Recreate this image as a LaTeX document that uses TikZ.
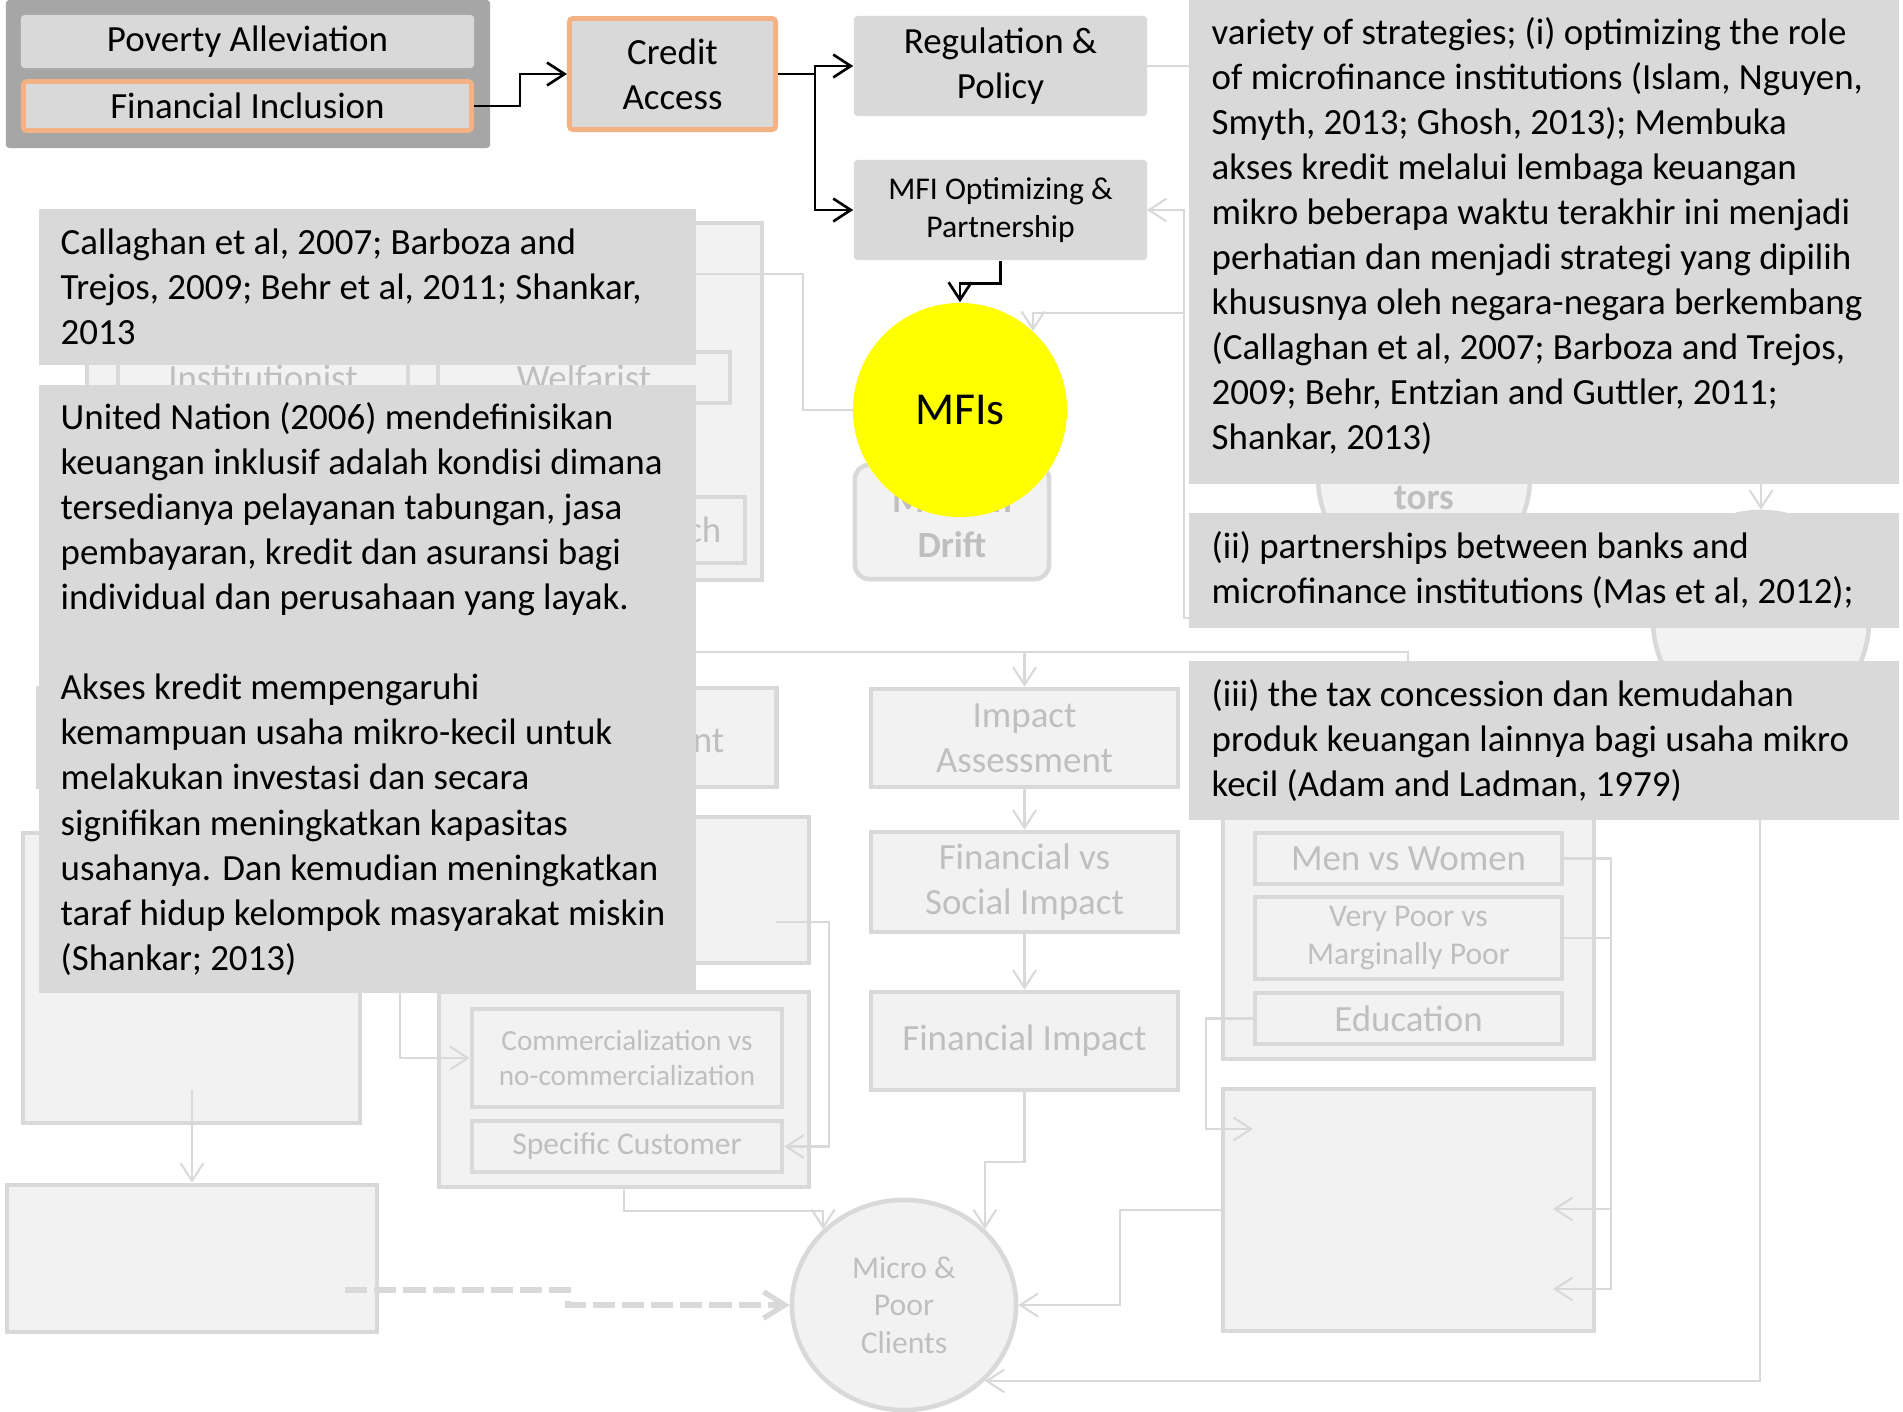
\documentclass[tikz,border=0pt]{standalone}
\usepackage{fontspec}
\setmainfont{Carlito}
\usetikzlibrary{arrows.meta,shapes.geometric}

\definecolor{boxgray}{HTML}{D9D9D9}
\definecolor{groupgray}{HTML}{A6A6A6}
\definecolor{peach}{HTML}{F4B183}
\definecolor{fadefill}{HTML}{F2F2F2}
\definecolor{fadeline}{HTML}{D9D9D9}
\definecolor{fadetext}{HTML}{BFBFBF}
\definecolor{mfiyellow}{HTML}{FFFF00}

\begin{document}
\begin{tikzpicture}[x=0.01cm,y=-0.01cm,
  txt/.style={font=\fontsize{10.5}{12.8}\selectfont},
  boldtxt/.style={font=\fontsize{10.5}{12.8}\selectfont\bfseries},
  smalltxt/.style={font=\fontsize{9}{10.6}\selectfont},
  tinytxt/.style={font=\fontsize{8.3}{9.7}\selectfont},
  gbox/.style={fill=boxgray,rounded corners=1pt,inner sep=0pt,align=center,txt},
  notetxt/.style={anchor=west,align=left,inner sep=0pt,txt},
  fbox/.style={fill=fadefill,draw=fadeline,line width=1.3pt,inner sep=0pt,
    text=fadetext,align=center,txt},
  fline/.style={draw=fadeline,line width=0.6pt},
  farrow/.style={fline,-{Straight Barb[length=5pt,width=6.5pt]}},
  barrow/.style={line width=0.75pt,-{Straight Barb[length=5pt,width=6.5pt]}}]
  \useasboundingbox (0,0) rectangle (1903,1411);

  % faded boxes, left side
  \node[fbox,minimum width=6.75cm,minimum height=3.57cm] (bgtop) at (424.5,401.5) {};
  \node[fbox,minimum width=2.9cm,minimum height=0.51cm] (inst) at (263,377.5) {Institutionist};
  \node[fbox,minimum width=2.92cm,minimum height=0.51cm] (welf) at (584,377.5) {Welfarist};
  \node[fbox,minimum width=6.27cm,minimum height=0.66cm] (appr) at (431.5,530) {};
  \node[txt,text=fadetext,anchor=base east,inner sep=0pt] (apprtxt) at (722,542) {ch};
  \node[fbox,minimum width=7.38cm,minimum height=0.99cm] (mgmt) at (407,737.5) {};
  \node[txt,text=fadetext,anchor=base east,inner sep=0pt] (mgmttxt) at (725,752) {nt};
  \node[fbox,minimum width=3.69cm,minimum height=1.46cm] (midbox) at (624.5,890) {};
  \node[fbox,minimum width=3.37cm,minimum height=2.9cm] (leftbox) at (191.5,978) {};
  \node[fbox,minimum width=3.7cm,minimum height=1.95cm] (custgrp) at (624,1089.5) {};
  \node[fbox,tinytxt,minimum width=3.1cm,minimum height=0.98cm] (commerc) at (627,1058)
    {Commercialization vs\\no-commercialization};
  \node[fbox,smalltxt,minimum width=3.1cm,minimum height=0.51cm] (specific) at (627,1146.5)
    {Specific Customer};
  \node[fbox,minimum width=3.7cm,minimum height=1.47cm] (lowleft) at (192,1258.5) {};

  % faded boxes, middle and right
  \node[fbox,boldtxt,rounded corners=4pt,minimum width=1.94cm,minimum height=1.14cm] (drift)
    at (952,522) {Mission\\Drift};
  \node[fbox,minimum width=3.07cm,minimum height=0.98cm] (impact) at (1024.5,738) {Impact\\Assessment};
  \node[fbox,minimum width=3.07cm,minimum height=1cm] (fvs) at (1024.5,882) {Financial vs\\Social Impact};
  \node[fbox,minimum width=3.07cm,minimum height=0.98cm] (finimp) at (1024.5,1041) {Financial Impact};
  \node[fbox,circle,minimum size=2.12cm] (factors) at (1424,477) {};
  \node[boldtxt,text=fadetext,inner sep=0pt] (factorstxt) at (1424,498) {tors};
  \node[fbox,circle,minimum size=2.16cm] (mficirc) at (1761,620) {};
  \node[fbox,minimum width=3.71cm,minimum height=2.59cm] (rgrp) at (1408.5,929.5) {};
  \node[fbox,minimum width=3.07cm,minimum height=0.51cm] (men) at (1408.5,858.5) {Men vs Women};
  \node[fbox,smalltxt,minimum width=3.07cm,minimum height=0.82cm] (vpoor) at (1408.5,938)
    {Very Poor vs\\Marginally Poor};
  \node[fbox,minimum width=3.07cm,minimum height=0.51cm] (edu) at (1408.5,1018.5) {Education};
  \node[fbox,minimum width=3.71cm,minimum height=2.42cm] (lowright) at (1408.5,1210) {};
  \node[fbox,ellipse,smalltxt,minimum width=2.24cm,minimum height=2.1cm] (clients) at (904,1305)
    {Micro \&\\Poor\\Clients};

  % loose ends of faded connectors
  \coordinate (hidA) at (650,274);
  \coordinate (hidB) at (1200,618);
  \coordinate (rv) at (1184,313);
  \coordinate (hidC) at (650,652);
  \coordinate (hidH) at (1408,675);
  \coordinate (hidD) at (1760,800);
  \coordinate (hidE) at (1761,470);
  \coordinate (hidF) at (192,1090);
  \coordinate (hidG) at (1200,66);
  \coordinate (hidI) at (400,960);
  \coordinate (hidJ) at (776,922);
  \coordinate (hidK) at (345,1290);
  \coordinate (inA) at (1553,1209);
  \coordinate (inB) at (1553,1289);
  \coordinate (inC) at (1253,1129);

  % faded connectors
  \draw[fline] (hidA) -- ++(153,0) |- (960,410);
  \draw[farrow] (hidB) -| (rv) |- (1147,210);
  \draw[farrow] (rv) -| (1033,331);
  \draw[fline] (hidC) -| (hidH);
  \draw[farrow] (impact.north |- hidC) -- (impact.north);
  \draw[farrow] (impact.south) -- (fvs.north);
  \draw[farrow] (fvs.south) -- (finimp.north);
  \draw[farrow] (finimp.south) -- ++(0,70) -| (clients.north east);
  \draw[farrow] (custgrp.south) -- ++(0,22) -| (clients.north west);
  \draw[farrow] (lowright.west) -- ++(-101,0) |- (clients.east);
  \draw[farrow] (hidD) |- (clients.south east);
  \draw[farrow] (hidE) -- (mficirc.north);
  \draw[farrow] (men.east) -- ++(47,0) |- (inB);
  \draw[farrow] (vpoor.east) -- ++(47,0) |- (inA);
  \draw[farrow] (edu.west) -- ++(-47,0) |- (inC);
  \draw[farrow] (hidI) |- (commerc.west);
  \draw[farrow] (hidJ) -- ++(53,0) |- (specific.east);
  \draw[farrow] (hidF) -- (lowleft.north);
  \draw[fline] (1147,66) -- (hidG);
  \draw[fadeline,line width=1.5pt,dash pattern=on 6.3pt off 2pt,
    -{Straight Barb[length=6pt,width=7.5pt]}] (hidK) -- ++(223,0) |- (clients.west);

  % grey note boxes
  \fill[boxgray] (39,209) rectangle (696,365);
  \node[notetxt] (cite) at (60,287)
    {Callaghan et al, 2007; Barboza and\\Trejos, 2009; Behr et al, 2011; Shankar,\\2013};
  \fill[boxgray] (39,385) rectangle (696,993);
  \node[notetxt] (unnote) at (60,689)
    {United Nation (2006) mendefinisikan\\keuangan inklusif adalah kondisi dimana\\
     tersedianya pelayanan tabungan, jasa\\pembayaran, kredit dan asuransi bagi\\
     individual dan perusahaan yang layak.\\[12.8pt]
     Akses kredit mempengaruhi\\kemampuan usaha mikro-kecil untuk\\melakukan investasi dan secara\\
     signifikan meningkatkan kapasitas\\usahanya. Dan kemudian meningkatkan\\
     taraf hidup kelompok masyarakat miskin\\(Shankar; 2013)};
  \fill[boxgray] (1189,-12) rectangle (1899,484);
  \node[notetxt] (strat) at (1211,236)
    {variety of strategies; (i) optimizing the role\\of microfinance institutions (Islam, Nguyen,\\
     Smyth, 2013; Ghosh, 2013); Membuka\\akses kredit melalui lembaga keuangan\\
     mikro beberapa waktu terakhir ini menjadi\\perhatian dan menjadi strategi yang dipilih\\
     khususnya oleh negara-negara berkembang\\(Callaghan et al, 2007; Barboza and Trejos,\\
     2009; Behr, Entzian and Guttler, 2011;\\Shankar, 2013)};
  \fill[boxgray] (1189,513) rectangle (1899,628);
  \node[notetxt] (partner) at (1211,570.5)
    {(ii) partnerships between banks and\\microfinance institutions (Mas et al, 2012);};
  \fill[boxgray] (1189,661) rectangle (1899,820);
  \node[notetxt] (taxnote) at (1211,740.5)
    {(iii) the tax concession dan kemudahan\\produk keuangan lainnya bagi usaha mikro\\
     kecil (Adam and Ladman, 1979)};

  % main flow
  \node[fill=groupgray,rounded corners=1pt,minimum width=4.84cm,minimum height=1.48cm]
    (topgrp) at (248,74) {};
  \node[gbox,minimum width=4.53cm,minimum height=0.53cm] (pov) at (247.5,41.5) {Poverty Alleviation};
  \node[gbox,draw=peach,line width=1.4pt,minimum width=4.48cm,minimum height=0.49cm]
    (fincl) at (247.5,106) {Financial Inclusion};
  \node[gbox,draw=peach,line width=1.4pt,minimum width=2.06cm,minimum height=1.11cm]
    (credit) at (672.5,74) {Credit\\Access};
  \node[gbox,minimum width=2.93cm,minimum height=1cm] (reg) at (1000.5,66) {Regulation \&\\Policy};
  \node[gbox,smalltxt,minimum width=2.93cm,minimum height=1cm] (mfiopt) at (1000.5,210)
    {MFI Optimizing \&\\Partnership};
  \node[circle,fill=mfiyellow,minimum size=2.14cm,font=\fontsize{13}{15.6}\selectfont]
    (mfis) at (960,410) {MFIs};

  \draw[barrow] (fincl.east) -- ++(46,0) |- (credit.west);
  \draw[barrow] (credit.east) -- ++(37,0) |- (reg.west);
  \draw[barrow] (credit.east) -- ++(37,0) |- (mfiopt.west);
  \draw[barrow] (mfiopt.south) -- ++(0,23) -| (mfis.north);
\end{tikzpicture}
\end{document}
